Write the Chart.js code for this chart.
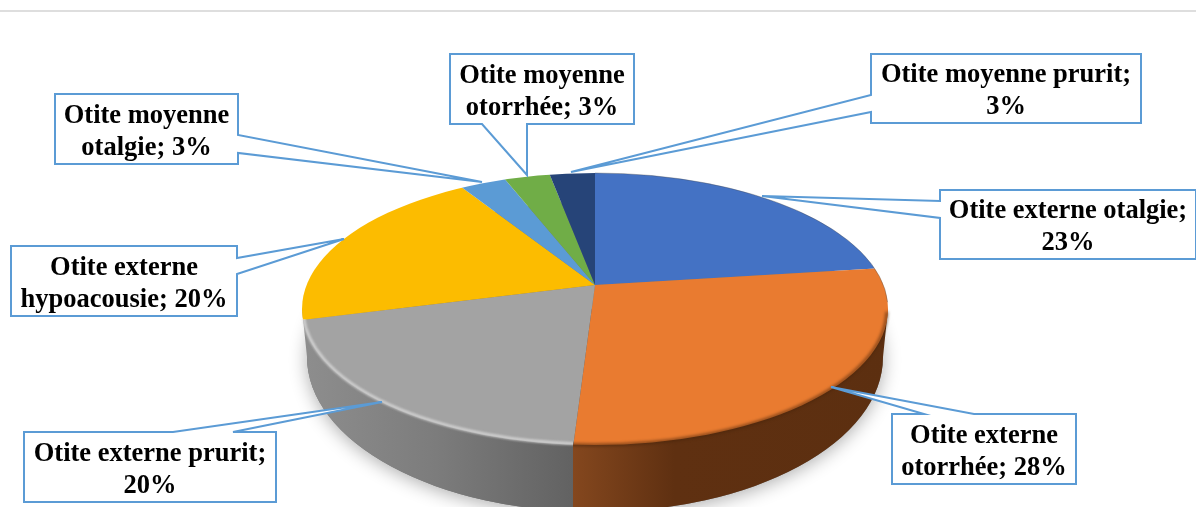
<!DOCTYPE html>
<html lang="fr">
<head>
<meta charset="utf-8">
<title>Otites</title>
<script src="https://cdn.jsdelivr.net/npm/chart.js@4"></script>
<style>
  html, body { margin: 0; padding: 0; background: #fff; overflow: hidden; }
  canvas { display: block; }
</style>
</head>
<body>
<canvas id="pie" width="1196" height="507"></canvas>
<script>
// ── Data ─────────────────────────────────────────────────────
const categories = [
  'Otite externe otalgie',
  'Otite externe otorrhée',
  'Otite externe prurit',
  'Otite externe hypoacousie',
  'Otite moyenne otalgie',
  'Otite moyenne otorrhée',
  'Otite moyenne prurit'
];
const shares = [23, 28, 20, 20, 3, 3, 3];
const sliceColors = ['#4472C4', '#E97B30', '#A3A3A3', '#FCBC00', '#5B9BD5', '#70AD47', '#264478'];

// ── Disc geometry (pixels) ───────────────────────────────────
const APEX = { x: 595, y: 285 };          // where the slices meet
const TOP = { x: 595, y: 309, rx: 293, ry: 136 };
const BASE = { x: 595, y: 357, rx: 288, ry: 155 };
const TILT = 0.465;                       // vertical squash of the slices
const REACH = 400;                        // slice radius before clipping to the disc
const WALL_SPLIT = 573;                   // grey / orange edge on the side wall

// Callout boxes, same order as categories. a/b = where the leader leaves the box
const callouts = [
  { x: 940, y: 190, w: 256, h: 69, side: 'left',   a: 201, b: 218, tip: [762, 196] },
  { x: 892, y: 414, w: 184, h: 70, side: 'top',    a: 924, b: 974, tip: [831, 387] },
  { x: 24,  y: 432, w: 252, h: 70, side: 'top',    a: 173, b: 233, tip: [382, 402] },
  { x: 11,  y: 246, w: 226, h: 70, side: 'right',  a: 258, b: 274, tip: [344, 239] },
  { x: 55,  y: 94,  w: 183, h: 70, side: 'right',  a: 135, b: 153, tip: [482, 182] },
  { x: 450, y: 54,  w: 184, h: 70, side: 'bottom', a: 482, b: 527, tip: [527, 175] },
  { x: 871, y: 54,  w: 270, h: 69, side: 'left',   a: 95,  b: 112, tip: [571, 172] }
];

// ── Drawing helpers ──────────────────────────────────────────
function ellipsePath(ctx, e) {
  ctx.beginPath();
  ctx.ellipse(e.x, e.y, e.rx, e.ry, 0, 0, Math.PI * 2);
}

function wallPath(ctx) {
  ctx.beginPath();
  ctx.ellipse(BASE.x, BASE.y, BASE.rx, BASE.ry, 0, 0, Math.PI);
  ctx.lineTo(TOP.x - TOP.rx, TOP.y);
  ctx.lineTo(TOP.x + TOP.rx, TOP.y);
  ctx.closePath();
}

function drawWall(ctx) {
  // soft shadow comes from the base ellipse only, its top half ends up hidden
  ctx.save();
  ctx.shadowColor = 'rgba(0,0,0,.32)';
  ctx.shadowBlur = 18;
  ctx.shadowOffsetY = 3;
  ctx.fillStyle = '#777';
  ellipsePath(ctx, BASE);
  ctx.fill();
  ctx.restore();

  const grey = ctx.createLinearGradient(300, 0, WALL_SPLIT, 0);
  grey.addColorStop(0, '#8e8e8e');
  grey.addColorStop(0.5, '#7c7c7c');
  grey.addColorStop(1, '#626262');
  const brown = ctx.createLinearGradient(WALL_SPLIT, 0, 890, 0);
  brown.addColorStop(0, '#84471e');
  brown.addColorStop(0.32, '#5f3011');
  brown.addColorStop(1, '#5c2f10');

  ctx.save();
  wallPath(ctx);
  ctx.clip();
  ctx.fillStyle = grey;
  ctx.fillRect(0, 0, WALL_SPLIT, 507);
  ctx.fillStyle = brown;
  ctx.fillRect(WALL_SPLIT, 0, 1196 - WALL_SPLIT, 507);
  ctx.restore();
}

// Soft lit edge on the grey slice, soft dark edge on the orange one
function drawRim(ctx) {
  ctx.save();
  ctx.beginPath();
  ctx.rect(290, 319, WALL_SPLIT - 290, 180);
  ctx.clip();
  ctx.filter = 'blur(1px)';
  ctx.strokeStyle = 'rgba(222,222,222,.75)';
  ctx.lineWidth = 3;
  ellipsePath(ctx, { x: TOP.x, y: TOP.y, rx: TOP.rx - 1, ry: TOP.ry - 1 });
  ctx.stroke();
  ctx.restore();

  ctx.save();
  ctx.beginPath();
  ctx.rect(WALL_SPLIT, 300, 330, 200);
  ctx.clip();
  ctx.filter = 'blur(1.5px)';
  ctx.strokeStyle = 'rgba(70,35,10,.6)';
  ctx.lineWidth = 3;
  ctx.beginPath();
  ctx.ellipse(TOP.x, TOP.y, TOP.rx - 1, TOP.ry, 0, 0.02, Math.PI * 0.6);
  ctx.stroke();
  ctx.restore();

  ctx.save();
  ctx.strokeStyle = 'rgba(70,70,70,.35)';
  ctx.lineWidth = 1;
  ctx.beginPath();
  ctx.ellipse(TOP.x, TOP.y, TOP.rx, TOP.ry, 0, -Math.PI / 2, -0.05);
  ctx.stroke();
  ctx.restore();
}

function calloutPath(ctx, c) {
  const r = c.x + c.w, btm = c.y + c.h;
  ctx.beginPath();
  ctx.moveTo(c.x, c.y);
  if (c.side === 'top') { ctx.lineTo(c.a, c.y); ctx.lineTo(...c.tip); ctx.lineTo(c.b, c.y); }
  ctx.lineTo(r, c.y);
  if (c.side === 'right') { ctx.lineTo(r, c.a); ctx.lineTo(...c.tip); ctx.lineTo(r, c.b); }
  ctx.lineTo(r, btm);
  if (c.side === 'bottom') { ctx.lineTo(c.b, btm); ctx.lineTo(...c.tip); ctx.lineTo(c.a, btm); }
  ctx.lineTo(c.x, btm);
  if (c.side === 'left') { ctx.lineTo(c.x, c.b); ctx.lineTo(...c.tip); ctx.lineTo(c.x, c.a); }
  ctx.closePath();
}

// Greedy word wrap against the box width
function wrapLabel(ctx, text, maxWidth) {
  const lines = [];
  let line = '';
  text.split(' ').forEach(word => {
    const next = line ? line + ' ' + word : word;
    if (line && ctx.measureText(next).width > maxWidth) {
      lines.push(line);
      line = word;
    } else {
      line = next;
    }
  });
  lines.push(line);
  return lines;
}

function drawCallouts(ctx) {
  ctx.save();
  ctx.font = 'bold 26.5px "Liberation Serif"';
  ctx.textAlign = 'center';
  ctx.textBaseline = 'middle';
  callouts.forEach((c, i) => {
    calloutPath(ctx, c);
    ctx.fillStyle = '#fff';
    ctx.fill();
    ctx.strokeStyle = '#5B9BD5';
    ctx.lineWidth = 2;
    ctx.stroke();

    const lines = wrapLabel(ctx, `${categories[i]}; ${shares[i]}%`, c.w - 8);
    const midY = c.y + c.h / 2 + 3;
    ctx.fillStyle = '#000';
    lines.forEach((ln, k) => {
      ctx.fillText(ln, c.x + c.w / 2, midY + (k - (lines.length - 1) / 2) * 32);
    });
  });
  ctx.restore();
}

// ── Plugin: extrudes the pie and lays it flat ────────────────
const discPlugin = {
  id: 'disc',
  beforeDatasetsDraw(chart) {
    const ctx = chart.ctx;
    ctx.save();
    ctx.fillStyle = '#dedede';
    ctx.fillRect(0, 10, 1196, 2);
    ctx.restore();

    drawWall(ctx);

    // the arcs themselves stay circular, the context squashes them
    const arc = chart.getDatasetMeta(0).data[0];
    const k = REACH / arc.outerRadius;
    ctx.save();
    ellipsePath(ctx, TOP);
    ctx.clip();
    ctx.translate(APEX.x, APEX.y);
    ctx.scale(k, k * TILT);
    ctx.translate(-arc.x, -arc.y);
  },
  afterDatasetsDraw(chart) {
    const ctx = chart.ctx;
    ctx.restore();
    drawRim(ctx);
    drawCallouts(ctx);
  }
};

new Chart(document.getElementById('pie'), {
  type: 'pie',
  data: {
    labels: categories,
    datasets: [{
      data: shares,
      backgroundColor: sliceColors,
      borderWidth: 0,
      clip: false
    }]
  },
  options: {
    responsive: false,
    animation: false,
    rotation: 0,
    layout: { padding: 0 },
    plugins: { legend: { display: false }, tooltip: { enabled: false } }
  },
  plugins: [discPlugin]
});
</script>
</body>
</html>
